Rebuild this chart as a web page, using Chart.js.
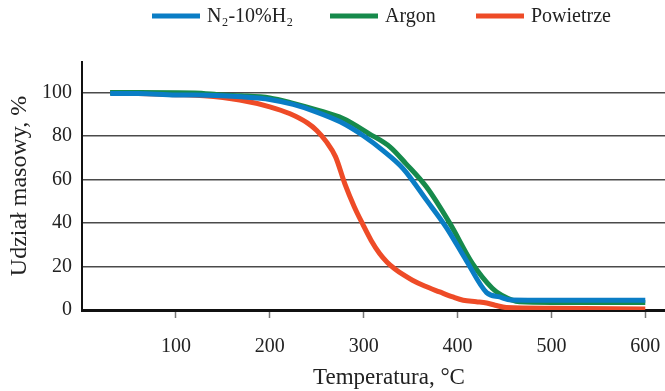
<!DOCTYPE html>
<html>
<head>
<meta charset="utf-8">
<script src="https://cdn.jsdelivr.net/npm/chart.js@4/dist/chart.umd.min.js"></script>
<style>
html,body{margin:0;padding:0;background:#fff;}
#wrap{width:665px;height:391px;}
</style>
</head>
<body>
<div id="wrap"><canvas id="c" width="665" height="391"></canvas></div>
<script>
// ---- data ----
const seriesLabels = ['N\u2082-10%H\u2082', 'Argon', 'Powietrze'];

const n2Temp = [30, 60, 100, 120, 150, 170, 200, 225, 250, 275, 300, 320, 342, 367, 388, 409, 431, 445, 457, 500, 600];
const n2Mass = [99.5, 99.5, 98.8, 98.8, 98.5, 98, 96.8, 94.5, 91, 86.5, 80, 73.5, 65, 50.5, 38, 23, 8, 6, 4.6, 4.5, 4.5];

const arTemp = [30, 60, 120, 150, 170, 200, 225, 250, 278, 306, 328, 345, 367, 392, 416, 437, 447, 466, 500, 600];
const arMass = [100, 100, 99.8, 98.8, 98.5, 97.5, 95, 92, 88, 81, 75, 67.3, 56.5, 39.7, 21.3, 10, 6.8, 3.8, 3.5, 3.5];

const airTemp = [30, 60, 100, 130, 168, 200, 221, 240, 250, 260, 270, 280, 290, 299, 308, 317, 325, 333, 343, 352, 365, 381, 395, 406, 420, 431, 440, 452, 500, 600];
const airMass = [100, 99.5, 99, 98.5, 96.5, 93.4, 90.3, 86, 82.5, 77.5, 70.5, 58, 47.5, 39.5, 32, 26, 22, 19, 16, 13.7, 11, 8.3, 6, 4.5, 3.8, 3.2, 2.2, 1.1, 0.8, 0.5];

const xTickValues = [100, 200, 300, 400, 500, 600];
const yTickValues = [0, 20, 40, 60, 80, 100];

const xTitle = 'Temperatura, \u00B0C';
const yTitle = 'Udzia\u0142 masowy, %';

// ---- styling ----
const colors = ['#0a7dc5', '#168a4b', '#ee4b27'];
const FONT = "'Liberation Serif', 'DejaVu Serif', serif";

function toPoints(xs, ys) { return xs.map((x, i) => ({x: x, y: ys[i]})); }

const datasets = [
  {label: seriesLabels[0], data: toPoints(n2Temp, n2Mass)},
  {label: seriesLabels[1], data: toPoints(arTemp, arMass)},
  {label: seriesLabels[2], data: toPoints(airTemp, airMass)}
].map((d, i) => Object.assign(d, {
  borderColor: colors[i],
  backgroundColor: colors[i],
  borderWidth: 5,
  pointRadius: 0,
  fill: false,
  cubicInterpolationMode: 'monotone',
  borderCapStyle: 'butt',
  borderJoinStyle: 'round'
}));

// legend with line samples and the x-axis title
const extras = {
  id: 'extras',
  afterDraw(chart) {
    const ctx = chart.ctx;
    ctx.save();
    ctx.font = '20px ' + FONT;
    ctx.textBaseline = 'middle';
    ctx.textAlign = 'left';
    ctx.fillStyle = '#222';
    const y = 16;
    const starts = [152, 330, 476];
    chart.data.datasets.forEach((ds, i) => {
      const x = starts[i];
      ctx.strokeStyle = ds.borderColor;
      ctx.lineWidth = 5;
      ctx.beginPath();
      ctx.moveTo(x, y);
      ctx.lineTo(x + 48, y);
      ctx.stroke();
      ctx.fillText(ds.label, x + 55, y + 1);
    });
    ctx.font = '23px ' + FONT;
    ctx.textAlign = 'center';
    ctx.fillText(xTitle, 389, 378);
    ctx.restore();
  }
};

new Chart(document.getElementById('c'), {
  type: 'line',
  data: {datasets: datasets},
  plugins: [extras],
  options: {
    responsive: false,
    animation: false,
    devicePixelRatio: 1,
    layout: {padding: {top: 62, right: 0, left: 0, bottom: 0}},
    plugins: {
      legend: {display: false},
      tooltip: {enabled: false}
    },
    scales: {
      x: {
        type: 'linear',
        min: 0,
        max: 621,
        afterBuildTicks: (s) => { s.ticks = xTickValues.map(v => ({value: v})); },
        afterFit: (s) => { s.height = 81; s.paddingRight = 0; s.paddingLeft = 0; },
        grid: {
          display: true,
          drawOnChartArea: false,
          drawTicks: true,
          tickLength: 8,
          tickColor: '#777',
          tickWidth: 1.5
        },
        border: {display: true, color: '#111', width: 3},
        ticks: {
          color: '#222',
          font: {family: FONT, size: 20},
          padding: 17,
          maxRotation: 0,
          autoSkip: false
        },
        title: {display: false}
      },
      y: {
        type: 'linear',
        min: 0,
        max: 114,
        afterBuildTicks: (s) => { s.ticks = yTickValues.map(v => ({value: v})); },
        afterFit: (s) => { s.width = 82; },
        grid: {
          display: true,
          drawOnChartArea: true,
          drawTicks: false,
          color: '#4a4a4a',
          lineWidth: 1.5
        },
        border: {display: true, color: '#111', width: 2},
        ticks: {
          color: '#222',
          font: {family: FONT, size: 20},
          padding: 10
        },
        title: {
          display: true,
          text: yTitle,
          color: '#222',
          font: {family: FONT, size: 24},
          padding: {top: 5, bottom: 0}
        }
      }
    }
  }
});
</script>
</body>
</html>
